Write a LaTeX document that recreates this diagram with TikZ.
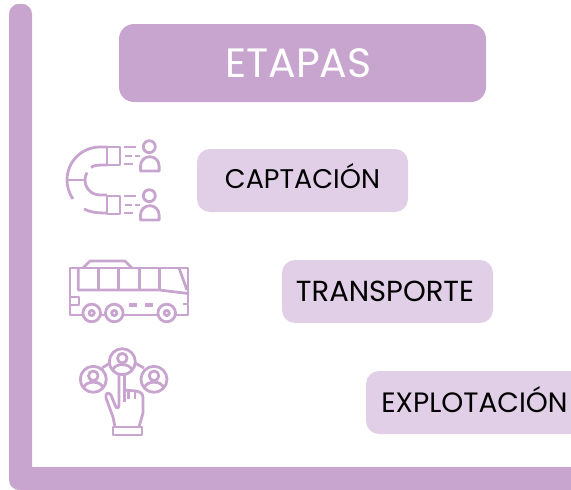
\documentclass[tikz,border=0pt]{standalone}
\usepackage{fontspec}
\setmainfont{Poppins}
\definecolor{moradoOsc}{HTML}{C8A5CF}
\definecolor{moradoCla}{HTML}{E1CEE7}
\tikzset{
    etapa/.style={fill=moradoCla, rounded corners=13pt, minimum width=211pt, minimum height=63pt, inner sep=0pt, text=black, text height=19pt, text depth=3pt, font=\fontsize{27}{32}\selectfont},
    titulo/.style={fill=moradoOsc, rounded corners=15pt, minimum width=367pt, minimum height=78pt, inner sep=0pt, text=white, font=\fontsize{41}{48}\selectfont},
    icono/.style={draw=moradoOsc, line width=2.8pt, line join=round}
}
\begin{document}
\begin{tikzpicture}[x=1pt, y=-1pt]
    \clip (0, 0) rectangle (571, 490);

    % Ejes
    \fill[moradoOsc, rounded corners=10pt] (20.5, 4) -- (32, 4) [sharp corners] -- (32, 467) -- (600, 467) -- (600, 490) [rounded corners=10pt] -- (9, 490) -- (9, 4) -- cycle;

    % Cajas
    \node[titulo] (etapas) at (302.5, 63) {ETAPAS\kern8pt};
    \node[etapa] (captacion) at (302.5, 180.5) {CAPTACIÓN};
    \node[etapa, text depth=0pt, font=\fontsize{29}{34}\selectfont] (transporte) at (387.5, 291.5) {TRANSPORTE\kern5pt};
    \node[etapa, text depth=0pt, minimum width=217pt, font=\fontsize{28}{33}\selectfont] (explotacion) at (474.5, 402.5) {EXPLOTACIÓN};

    % Imán
    \draw[icono] (107, 147) -- (100, 147) arc (-90:-215:33);
    \draw[icono] (84, 209) .. controls (90, 212) and (95, 213) .. (107, 213);
    \draw[icono] (107, 195) -- (100, 195) arc (90:210:15);
    \draw[icono] (91, 167.5) .. controls (94, 165) and (98, 165) .. (107, 165);
    \draw[icono] (68, 180) -- (85, 180);
    \foreach \dy in {0, 49} {
        \begin{scope}[yshift=-\dy pt]
            \draw[icono] (107, 147) rectangle (120, 165);
            \draw[icono] (124, 147) -- (136, 147);
            \draw[icono] (125, 156) -- (132, 156);
            \draw[icono] (135, 156) -- (140, 156);
            \draw[icono] (124, 164) -- (133, 164);
            \draw[icono] (149.3, 146.7) circle (6);
            \draw[icono] (140.5, 171) -- (140.5, 166) arc (180:360:9.3) -- (159.1, 171) -- cycle;
        \end{scope}
    }

    % Autobús
    \draw[icono] (83, 268) -- (90, 261) -- (125, 261) -- (132, 268);
    \draw[icono] (82.5, 315) -- (70, 315) -- (70, 268) -- (188, 268) -- (188, 315) -- (176, 315);
    \draw[icono] (78.3, 268) -- (78.3, 290) -- (159.3, 290) -- (188, 293.5);
    \foreach \xv in {98.3, 118.3, 139.3, 159.3} {
        \draw[icono] (\xv, 268) -- (\xv, 290);
    }
    \draw[icono] (179, 268) -- (187, 290);
    \draw[icono] (70, 297) -- (79, 297) -- (79, 305) -- (70, 305);
    \draw[icono] (183, 304) -- (188, 304);
    \draw[icono] (100.5, 315) -- (105.5, 315);
    \draw[icono] (123.5, 315) -- (157.5, 315);
    \foreach \xr in {91.7, 114.3, 166.7} {
        \draw[icono] (\xr, 313) circle (8.8);
        \draw[icono] (\xr, 313) circle (2.6);
    }
    \fill[moradoOsc] (129, 303) rectangle (137, 307);
    \fill[moradoOsc] (145, 303) rectangle (153, 307);

    % Personas y mano
    \foreach \xc/\yc in {122.3/361.7, 93.3/379.3, 154/379.3} {
        \draw[icono] (\xc, \yc) circle (13);
        \draw[icono] (\xc, \yc-3.5) circle (4.8);
        \draw[icono] (\xc-9.5, \yc+8.5) .. controls (\xc-8, \yc+1) and (\xc+8, \yc+1) .. (\xc+9.5, \yc+8.5);
    }
    \draw[icono] (102, 368) -- (110, 363);
    \draw[icono] (135, 363) -- (144, 368);
    \draw[icono] (119, 374.7) -- (119, 405) .. controls (119, 409) and (116, 409) .. (115, 405)
        -- (111, 395) .. controls (108, 391) and (105, 394) .. (106, 398)
        -- (113, 417) -- (115, 427);
    \draw[icono] (124.5, 374.7) -- (124.5, 402);
    \draw[icono] (124.5, 390) -- (136, 391) .. controls (141, 392) and (143, 394) .. (143, 398)
        -- (143, 413) -- (139, 427);
    \draw[icono] (128.5, 391) -- (128.5, 399);
    \draw[icono] (135, 391) -- (135, 399);
    \draw[icono] (113, 427) rectangle (142, 435);
\end{tikzpicture}
\end{document}
